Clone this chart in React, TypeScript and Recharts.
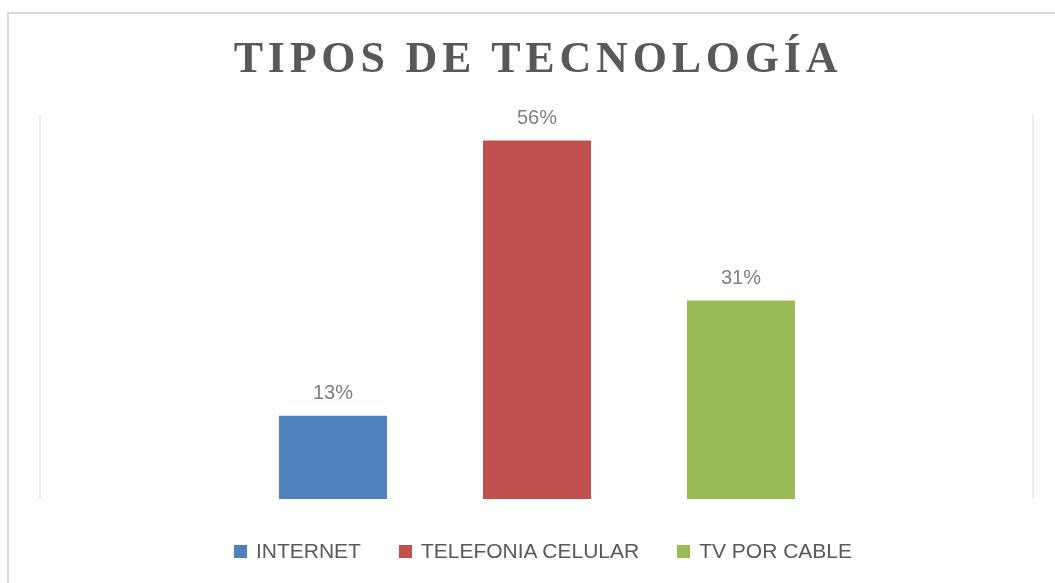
import React from 'react';
import { BarChart, Bar, Cell, XAxis, YAxis, Legend, LabelList } from 'recharts';

const categories = ['INTERNET', 'TELEFONIA CELULAR', 'TV POR CABLE'];
const percentages = [13, 56, 31];
const COLORS = ['#4F81BD', '#C0504D', '#9BBB59'];
const yDomain = [0, 60];

const data = categories.map((name, i) => ({ name, value: percentages[i] }));

const SANS = '"Liberation Sans", Arial, sans-serif';

function renderLegend() {
  return (
    <div
      style={{
        display: 'flex',
        justifyContent: 'center',
        alignItems: 'center',
        gap: 38,
        height: 30,
        paddingLeft: 31,
        fontFamily: SANS,
        fontSize: 21,
        color: '#595959',
      }}
    >
      {categories.map((name, i) => (
        <div key={name} style={{ display: 'flex', alignItems: 'center' }}>
          <span style={{ width: 13, height: 13, background: COLORS[i], marginRight: 9, display: 'inline-block' }} />
          <span>{name}</span>
        </div>
      ))}
    </div>
  );
}

export default function App() {
  return (
    <div style={{ position: 'relative', width: 1039, height: 567 }}>
      {/* outer frame: only top and left edges are visible */}
      <div
        style={{
          position: 'fixed',
          left: 7,
          top: 12,
          width: 1200,
          height: 700,
          borderTop: '2px solid #d9d9d9',
          borderLeft: '2px solid #d9d9d9',
          pointerEvents: 'none',
        }}
      />
      <div
        style={{
          position: 'absolute',
          left: 130,
          top: 28,
          width: 800,
          textAlign: 'center',
          fontFamily: '"Liberation Serif", "Times New Roman", serif',
          fontWeight: 'bold',
          fontSize: 44,
          lineHeight: '44px',
          letterSpacing: 4.8,
          color: '#595959',
          whiteSpace: 'nowrap',
        }}
      >
        TIPOS DE TECNOLOGÍA
      </div>
      <BarChart
        width={1039}
        height={567}
        data={data}
        margin={{ top: 107, right: 13, bottom: 46, left: 31 }}
      >
        <XAxis dataKey="name" hide padding={{ left: 191, right: 190 }} />
        <YAxis
          yAxisId="left"
          domain={yDomain}
          width={1}
          tick={false}
          tickLine={false}
          axisLine={{ stroke: '#d9d9d9', strokeWidth: 1 }}
        />
        <YAxis
          yAxisId="right"
          orientation="right"
          domain={yDomain}
          width={1}
          tick={false}
          tickLine={false}
          axisLine={{ stroke: '#d9d9d9', strokeWidth: 1 }}
        />
        <Legend
          verticalAlign="bottom"
          height={30}
          content={renderLegend}
          wrapperStyle={{ left: 0, width: 1039, bottom: 9 }}
        />
        <Bar yAxisId="left" dataKey="value" barSize={108} isAnimationActive={false}>
          {data.map((entry, index) => (
            <Cell key={`cell-${index}`} fill={COLORS[index % COLORS.length]} />
          ))}
          <LabelList
            dataKey="value"
            position="top"
            offset={17}
            formatter={(v: number) => `${v}%`}
            fill="#808080"
            fontSize={20}
            fontFamily={SANS}
          />
        </Bar>
      </BarChart>
    </div>
  );
}
